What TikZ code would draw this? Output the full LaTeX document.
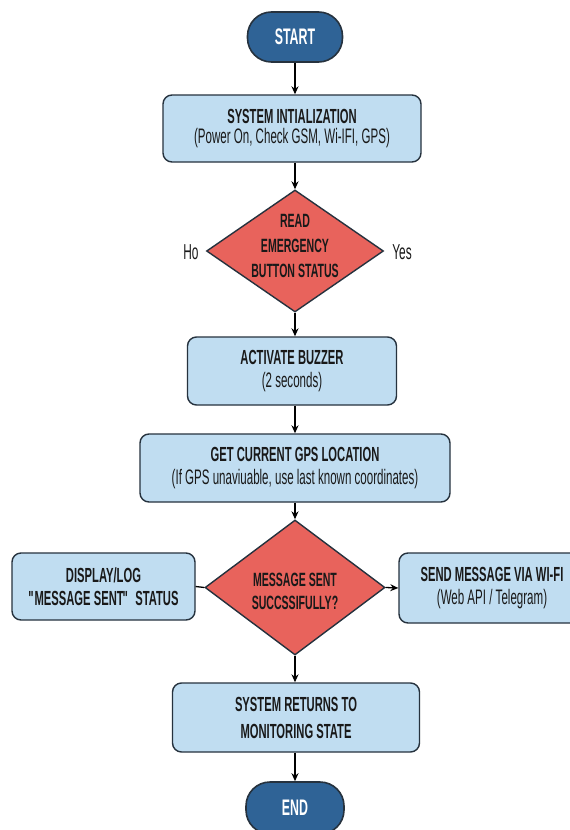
\documentclass[tikz,border=0pt]{standalone}
\usepackage{fontspec}
\setmainfont{Liberation Sans}[FakeStretch=0.55]
\usetikzlibrary{shapes.geometric,arrows.meta}
\definecolor{termfill}{HTML}{2F6396}
\definecolor{boxfill}{HTML}{C0DDF1}
\definecolor{decfill}{HTML}{E8635C}
\definecolor{edge}{HTML}{26323E}
\newcommand{\mytitle}[1]{{\bfseries #1}}
\newcommand{\mysub}[1]{{\fontsize{21}{23}\selectfont #1}}
\newcommand{\qd}{\textquotedbl}
\begin{document}
\begin{tikzpicture}[x=1pt,y=-1pt,
  terminal/.style={draw=edge, line width=1.6pt, fill=termfill, rounded corners=24pt,
    text=white, font=\fontsize{22.5}{24}\selectfont\bfseries, inner sep=0pt},
  procbox/.style={draw=edge, line width=1.4pt, fill=boxfill, rounded corners=9pt,
    align=center, inner sep=0pt, text=black!90, font=\fontsize{20.4}{23}\selectfont},
  decision/.style={diamond, draw=edge, line width=1.4pt, fill=decfill, inner sep=0pt},
  dectext/.style={align=center, font=\fontsize{19.2}{25}\selectfont\bfseries, text=black!90},
  flow/.style={draw=black, line width=1.3pt, -{Stealth[length=8pt,width=7pt]}},
  side/.style={font=\fontsize{21.6}{23}\selectfont, text=black!90}
]
\useasboundingbox (0,0) rectangle (570,830);
\fill[white] (0,0) rectangle (570,830);

\node[terminal, minimum width=95pt, minimum height=50pt] (start) at (295,37) {START};
\node[procbox, minimum width=258pt, minimum height=67pt] (init) at (292,128.5)
  {\mytitle{SYSTEM INTIALIZATION}\\[-3pt]\mysub{(Power On, Check GSM, Wi-IFI, GPS)}};
\node[decision, minimum width=177pt, minimum height=122pt] (d1) at (295,251) {};
\node[dectext] (d1t) at (295,246) {READ\\EMERGENCY\\BUTTON STATUS};
\node[side] (no) at (191,252) {Ho};
\node[side] (yes) at (402,252) {Yes};
\node[procbox, minimum width=209pt, minimum height=68pt] (buzz) at (292,371)
  {\mytitle{ACTIVATE BUZZER}\\\mysub{(2 seconds)}};
\node[procbox, minimum width=310pt, minimum height=68pt] (gps) at (295,468)
  {\mytitle{GET CURRENT GPS LOCATION}\\\mysub{(If GPS unaviuable, use last known coordinates)}};
\node[decision, minimum width=180pt, minimum height=135pt] (d2) at (295,587.5) {};
\node[dectext] (d2t) at (295,591) {MESSAGE SENT\\[-2pt]SUCCSSIFULLY?};
\node[procbox, minimum width=183pt, minimum height=67pt] (disp) at (103.5,586.5)
  {\mytitle{DISPLAY/LOG}\\\mytitle{\qd\kern-3.5pt MESSAGE SENT\kern-1.2pt\qd{} STATUS}};
\node[procbox, minimum width=186pt, minimum height=70pt] (send) at (492,588)
  {\mytitle{SEND MESSAGE VIA WI-FI}\\\mysub{(Web API / Telegram)}};
\node[procbox, minimum width=247pt, minimum height=69pt] (ret) at (296,717.5)
  {\mytitle{SYSTEM RETURNS TO}\\[4pt]\mytitle{MONITORING STATE}};
\node[terminal, minimum width=98pt, minimum height=52pt] (end) at (295,808) {END};

\draw[flow] (start.south) -- (start.south |- init.north);
\draw[flow] (start.south |- init.south) -- (d1.north);
\draw[flow] (d1.south) -- (d1.south |- buzz.north);
\draw[flow] (d1.south |- buzz.south) -- (gps.north);
\draw[flow] (gps.south) -- (d2.north);
\draw[flow] (d2.south) -- (d2.south |- ret.north);
\draw[flow] (d2.south |- ret.south) -- (end.north);
\draw[draw=black, line width=1.3pt] (disp.east) -- (d2.west);
\draw[flow] (d2.east) -- (send.west);
\end{tikzpicture}
\end{document}
